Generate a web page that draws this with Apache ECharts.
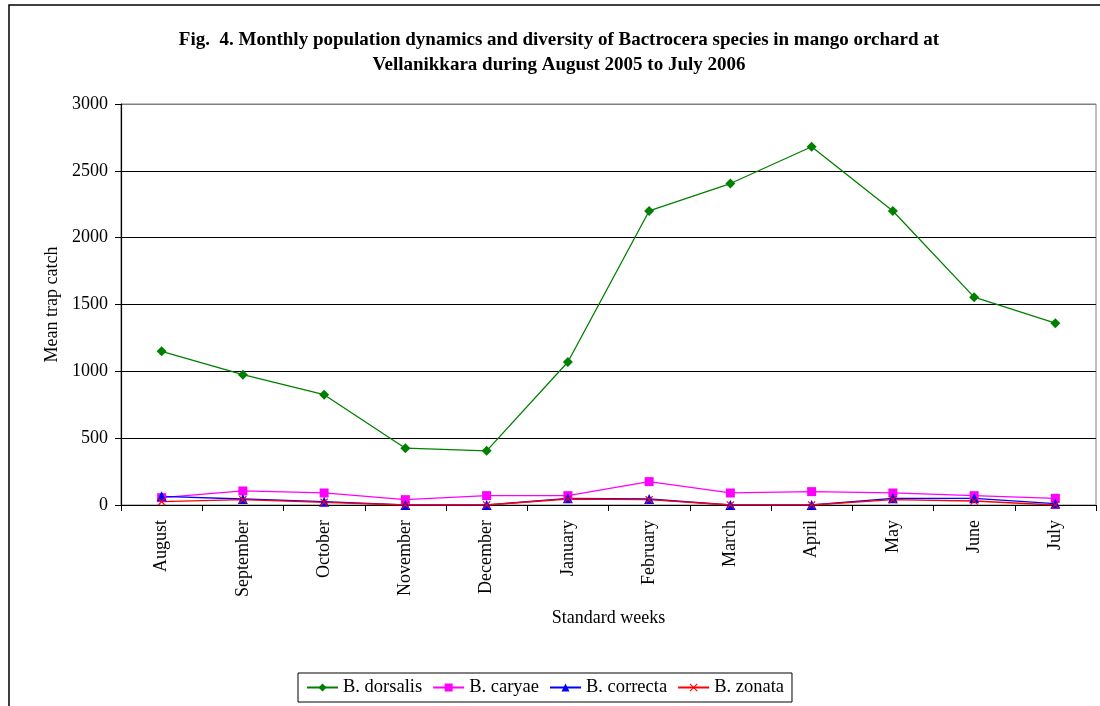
<!DOCTYPE html>
<html>
<head>
<meta charset="utf-8">
<script src="https://cdn.jsdelivr.net/npm/echarts@6/dist/echarts.min.js"></script>
<style>
  html, body { margin: 0; padding: 0; background: #fff; }
  #chart { width: 1100px; height: 706px; }
</style>
</head>
<body>
<div id="chart"></div>
<script>
// Months of the survey (August 2005 – July 2006)
var months = ['August', 'September', 'October', 'November', 'December', 'January',
              'February', 'March', 'April', 'May', 'June', 'July'];

// Mean trap catch per species
var dorsalis = [1150, 975, 825, 425, 405, 1070, 2200, 2405, 2680, 2200, 1555, 1360];
var caryae   = [55, 105, 90, 40, 70, 70, 175, 90, 100, 90, 70, 50];
var correcta = [65, 45, 25, 0, 0, 50, 45, 0, 0, 50, 50, 10];
var zonata   = [25, 40, 20, 0, 0, 45, 40, 0, 0, 40, 30, 0];

var yTicks = [0, 500, 1000, 1500, 2000, 2500, 3000];

var serif = '"Liberation Serif", "DejaVu Serif", serif';
var crossPath = 'path://M0,1L1,0L5,4L9,0L10,1L6,5L10,9L9,10L5,6L1,10L0,9L4,5Z';

function lineSeries(name, data, color, symbol, size) {
  return {
    name: name,
    type: 'line',
    data: data,
    symbol: symbol,
    symbolSize: size,
    lineStyle: { color: color, width: 1.3 },
    itemStyle: { color: color },
    emphasis: { disabled: true }
  };
}

var chart = echarts.init(document.getElementById('chart'), null, { renderer: 'canvas' });
chart.setOption({
  animation: false,
  backgroundColor: '#fff',
  textStyle: { fontFamily: serif, color: '#000' },
  graphic: [{
    type: 'rect',
    shape: { x: 9, y: 5, width: 1100, height: 710 },
    style: { fill: 'none', stroke: '#000', lineWidth: 1.5 },
    silent: true
  }],
  title: {
    text: 'Fig.  4. Monthly population dynamics and diversity of Bactrocera species in mango orchard at\nVellanikkara during August 2005 to July 2006',
    left: 554,
    top: 23,
    textAlign: 'center',
    textStyle: { fontFamily: serif, fontWeight: 'bold', fontSize: 19, lineHeight: 25, color: '#000' }
  },
  legend: {
    left: 298,
    top: 673,
    padding: [5, 8, 5, 8],
    borderColor: '#000',
    borderWidth: 1,
    itemWidth: 31,
    itemHeight: 10,
    itemGap: 10,
    textStyle: { fontFamily: serif, fontSize: 18.5, color: '#000' },
    data: ['B. dorsalis', 'B. caryae', 'B. correcta', 'B. zonata']
  },
  grid: {
    left: 121, right: 4, top: 104, bottom: 201,
    show: true, borderColor: '#808080', borderWidth: 1
  },
  xAxis: {
    type: 'category',
    data: months,
    boundaryGap: true,
    name: 'Standard weeks',
    nameLocation: 'middle',
    nameGap: 104,
    nameTextStyle: { fontFamily: serif, fontSize: 18, color: '#000' },
    axisLine: { lineStyle: { color: '#000', width: 1.2 } },
    axisTick: { show: true, alignWithLabel: false, length: 6, lineStyle: { color: '#000' } },
    axisLabel: { rotate: 90, margin: 15, fontFamily: serif, fontSize: 18, color: '#000', interval: 0 },
    splitLine: { show: false }
  },
  yAxis: {
    type: 'value',
    min: yTicks[0],
    max: yTicks[yTicks.length - 1],
    interval: yTicks[1] - yTicks[0],
    name: 'Mean trap catch',
    nameLocation: 'middle',
    nameGap: 58,
    nameRotate: 90,
    nameTextStyle: { fontFamily: serif, fontSize: 18, color: '#000' },
    axisLine: { show: true, lineStyle: { color: '#000', width: 1.2 } },
    axisTick: { show: true, length: 6, lineStyle: { color: '#000' } },
    axisLabel: {
      margin: 13, fontFamily: serif, fontSize: 18, color: '#000',
      formatter: function (v) { return String(v); }
    },
    splitLine: { show: true, lineStyle: { color: ['#000', '#000', '#000', '#000', '#000', '#000', '#808080'], width: 1.2 } }
  },
  series: [
    lineSeries('B. dorsalis', dorsalis, '#008000', 'diamond', 10),
    lineSeries('B. caryae', caryae, '#FF00FF', 'rect', 9),
    lineSeries('B. correcta', correcta, '#0000FF', 'triangle', 10),
    lineSeries('B. zonata', zonata, '#FF0000', crossPath, 8)
  ]
});
</script>
</body>
</html>
